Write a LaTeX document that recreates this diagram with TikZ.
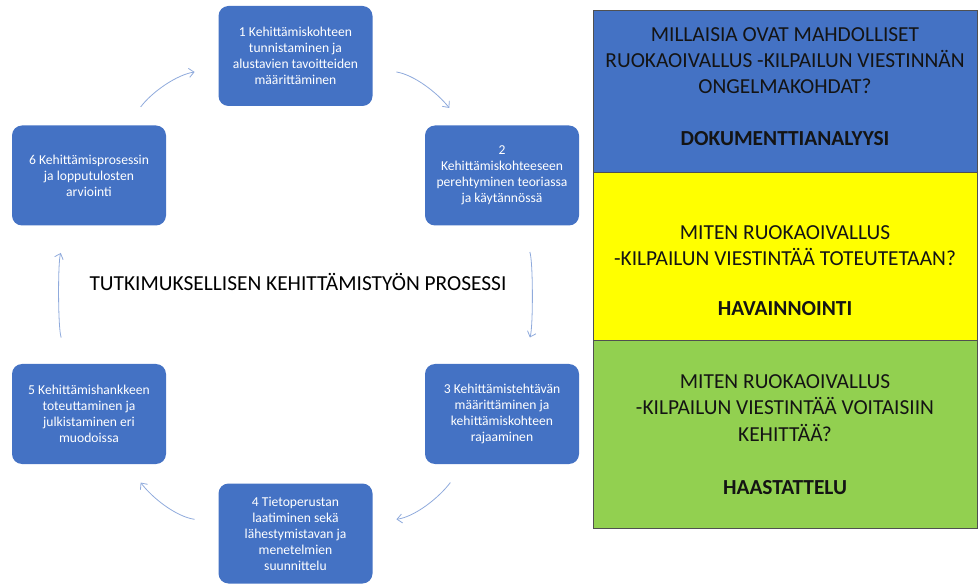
\documentclass[tikz,border=0pt]{standalone}
\usepackage{fontspec}
\setmainfont{Carlito}
\usepackage{tikz}
\usetikzlibrary{arrows.meta}

\definecolor{stepblue}{HTML}{4472C4}
\definecolor{cycleblue}{HTML}{8FAADC}
\definecolor{panelblue}{HTML}{4472C4}
\definecolor{panelyellow}{HTML}{FFFF00}
\definecolor{panelgreen}{HTML}{92D050}
\definecolor{panelline}{HTML}{505050}
\definecolor{paneltext}{HTML}{141414}

\begin{document}
\begin{tikzpicture}[x=1pt, y=1pt,
      stepbox/.style={rectangle, rounded corners=10pt, fill=stepblue, text=white,
        minimum width=154pt, minimum height=100pt, inner sep=0pt, align=center,
        font=\fontsize{13.6}{16}\selectfont},
      cycle/.style={draw=cycleblue, line width=0.8pt,
        -{Straight Barb[length=5pt,width=9pt]}},
      panel/.style={rectangle, draw=panelline, line width=0.6pt,
        minimum width=384pt, minimum height=#1, inner sep=0pt},
      question/.style={align=center, text=paneltext,
        font=\fontsize{21.4}{26.3}\selectfont},
      method/.style={text=paneltext, font=\fontsize{21.4}{26.3}\selectfont\bfseries}
    ]
    \useasboundingbox (0,0) rectangle (978,-585);

    % process cycle
    \node[stepbox] (b1) at (295.5,-56) {1 Kehittämiskohteen\\tunnistaminen ja\\alustavien tavoitteiden\\määrittäminen};
    \node[stepbox] (b2) at (502,-175.5) {2\\Kehittämiskohteeseen\\perehtyminen teoriassa\\ja käytännössä};
    \node[stepbox] (b3) at (502,-414) {3 Kehittämistehtävän\\määrittäminen ja\\kehittämiskohteen\\rajaaminen};
    \node[stepbox] (b4) at (295.5,-533.5) {4 Tietoperustan\\laatiminen sekä\\lähestymistavan ja\\menetelmien\\suunnittelu};
    \node[stepbox] (b5) at (89,-414) {5 Kehittämishankkeen\\toteuttaminen ja\\julkistaminen eri\\muodoissa};
    \node[stepbox] (b6) at (89,-175.5) {6 Kehittämisprosessin\\ja lopputulosten\\arviointi};

    \node[font=\fontsize{21.4}{24}\selectfont] (title) at (298,-282) {TUTKIMUKSELLISEN KEHITTÄMISTYÖN PROSESSI};

    \draw[cycle, shorten <=23pt, shorten >=24pt] (b6) to[out=53, in=189] (b1);
    \draw[cycle, shorten <=24pt, shorten >=22pt] (b1) to[out=-9, in=128] (b2);
    \draw[cycle, shorten <=28pt, shorten >=28pt] (b2) to[out=-70, in=70, looseness=0.7] (b3);
    \draw[cycle, shorten <=23pt, shorten >=24pt] (b3) to[out=-127, in=8] (b4);
    \draw[cycle, shorten <=24pt, shorten >=23pt] (b4) to[out=172, in=-53] (b5);
    \draw[cycle, shorten <=28pt, shorten >=29pt] (b5) to[out=110, in=-110, looseness=0.7] (b6);

    % research questions
    \node[panel=162pt, fill=panelblue] (p1) at (785,-91) {};
    \node[panel=168pt, fill=panelyellow] (p2) at (785,-256) {};
    \node[panel=188pt, fill=panelgreen] (p3) at (785,-434) {};

    \node[question] (q1) at (785,-60.5) {MILLAISIA OVAT MAHDOLLISET\\RUOKAOIVALLUS -KILPAILUN VIESTINNÄN\\ONGELMAKOHDAT?};
    \node[method] (m1) at (785,-138.5) {DOKUMENTTIANALYYSI};
    \node[question] (q2) at (785,-245.5) {MITEN RUOKAOIVALLUS\\-KILPAILUN VIESTINTÄÄ TOTEUTETAAN?};
    \node[method] (m2) at (785,-309) {HAVAINNOINTI};
    \node[question] (q3) at (785,-408) {MITEN RUOKAOIVALLUS\\-KILPAILUN VIESTINTÄÄ VOITAISIIN\\KEHITTÄÄ?};
    \node[method] (m3) at (785,-488) {HAASTATTELU};
  \end{tikzpicture}
\end{document}
